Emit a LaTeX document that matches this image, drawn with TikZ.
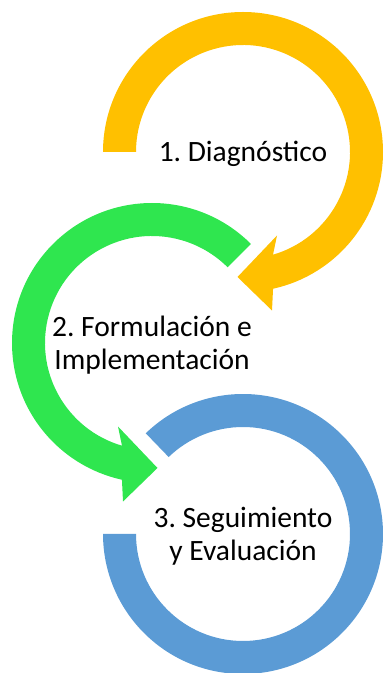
\documentclass[tikz,border=0pt]{standalone}
\usepackage{fontspec}
\setmainfont{Carlito}
\frenchspacing
\definecolor{cOrange}{HTML}{FFC000}
\definecolor{cGreen}{HTML}{2FE64F}
\definecolor{cBlue}{HTML}{5B9BD5}
\tikzset{
  lbl/.style={align=center, font=\fontsize{29.5}{33}\selectfont\frenchspacing, text=black, inner sep=0pt},
}
\begin{document}
\begin{tikzpicture}[x=1pt,y=1pt]
\useasboundingbox (0,0) rectangle (385,673);
% 1 orange
\begin{scope}[shift={(243,521)}]
\fill[cOrange] (180:140) arc[start angle=180,end angle=-77.6,radius=140]
  -- (29,-158.5) -- (-5.5,-125) -- (34,-83.5) -- (-73.7:107)
  arc[start angle=-73.7,end angle=180,radius=107] -- cycle;
\node[lbl] (t1) at (0,-2) {1. Diagnóstico};
\end{scope}
% 2 green
\begin{scope}[shift={(152,330)}]
\fill[cGreen] (45:140) arc[start angle=45,end angle=257.6,radius=140]
  -- (-29,-158.5) -- (5.5,-125) -- (-34,-83.5) -- (253.7:107)
  arc[start angle=253.7,end angle=45,radius=107] -- cycle;
\node[lbl] (t2) at (0,-2) {2. Formulación e\\Implementación};
\end{scope}
% 3 blue
\begin{scope}[shift={(243,139)}]
\fill[cBlue] (134:140) arc[start angle=134,end angle=-180,radius=140]
  -- (180:107) arc[start angle=-180,end angle=134,radius=107] -- cycle;
\node[lbl] (t3) at (0,-2) {3. Seguimiento\\y Evaluación};
\end{scope}
\end{tikzpicture}
\end{document}
